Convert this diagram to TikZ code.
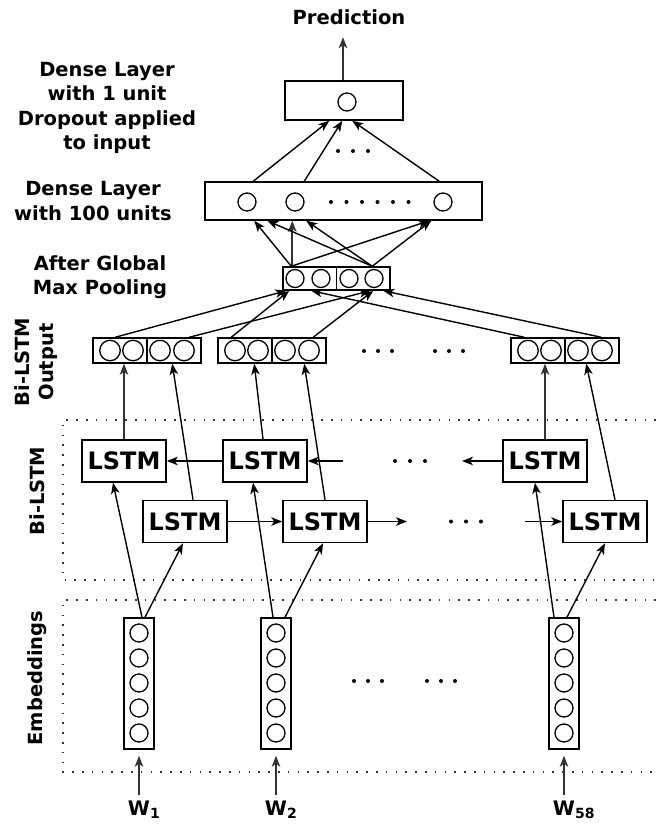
\documentclass[tikz,border=0pt]{standalone}
\usepackage{fontspec}
\setmainfont{DejaVu Sans}
\usetikzlibrary{arrows.meta,calc}
\begin{document}
\begin{tikzpicture}[x=1pt,y=-1pt,
  every node/.style={font=\fontsize{19.5}{24.5}\selectfont\bfseries},
  lbl/.style={align=center,inner sep=0},
  box/.style={draw,line width=1.5pt,inner sep=0},
  lstmbox/.style={box,minimum width=84pt,minimum height=42pt,font=\fontsize{24}{28}\selectfont\bfseries},
  unitc/.style={draw,circle,line width=1.3pt,inner sep=0,minimum size=18pt},
  arr/.style={line width=1.4pt,-{Stealth[length=11pt,width=8.5pt,inset=3pt]}},
  varr/.style={arr,draw=black!80,fill=black!80,line width=1.9pt},
  region/.style={line width=1.5pt,black!80,dash pattern=on 1.6pt off 8.2pt},
  dotmark/.style={fill=black}
]
\useasboundingbox (0,0) rectangle (656,828);

% dotted region frames
\draw[region] (656,420) -- (63,420) -- (63,580) -- (656,580);
\draw[region] (656,600) -- (63,600) -- (63,772) -- (656,772);

% labels
\node[lbl] (pred) at (349,17) {Prediction};
\node[lbl] (l1) at (107,108) {Dense Layer\\with 1 unit\\Dropout applied\\to input};
\node[lbl] (l2) at (93,201) {Dense Layer\\with 100 units};
\node[lbl] (l3) at (100,277) {After Global\\Max Pooling};
\node[lbl,rotate=90] (l4) at (36,362) {Bi-LSTM\\Output};
\node[lbl,rotate=90] (l5) at (37,491) {Bi-LSTM};
\node[lbl,rotate=90] (l6) at (37,678) {Embeddings};

% top dense layer (1 unit)
\node[box,minimum width=118pt,minimum height=39pt] (top) at (344,100.5) {};
\node[unitc] (tc) at (347,102) {};
\foreach \x in {338,353,368} \fill[dotmark] (\x,151) circle (2);

% dense layer 100 units
\node[box,minimum width=277pt,minimum height=38pt] (dense) at (343.5,201) {};
\foreach \k/\x in {1/247,2/295,3/443} \node[unitc] (dc\k) at (\x,202) {};
\foreach \x in {331,346.5,362,377.5,393,408.5} \fill[dotmark] (\x,202) circle (2);

% pooling
\node[box,minimum width=107pt,minimum height=23pt] (pool) at (336.5,278.5) {};
\draw[line width=1.5pt] (pool.north) -- (pool.south);
\foreach \k/\x in {1/295,2/321,3/349,4/374} \node[unitc] (pc\k) at (\x,278.5) {};

% Bi-LSTM outputs
\foreach \n/\x in {1/147,2/272,3/565} {
  \node[box,minimum width=108pt,minimum height=25pt] (o\n) at (\x,350.5) {};
  \draw[line width=1.5pt] (o\n.north) -- (o\n.south);
  \foreach \k/\d in {1/-37,2/-14,3/13,4/37}
    \node[unitc,minimum size=20.5pt] (o\n c\k) at (\x+\d,350.5) {};
}
\foreach \x in {364,378,392,435,449,463} \fill[dotmark] (\x,351) circle (2);

% LSTM cells
\foreach \n/\x in {1/124,2/265,3/545} \node[lstmbox] (lt\n) at (\x,461) {LSTM};
\foreach \n/\x in {1/185,2/325,3/605} \node[lstmbox] (lb\n) at (\x,521.5) {LSTM};
\foreach \x in {395,410,425} \fill[dotmark] (\x,461) circle (2);
\foreach \x in {451,466,481} \fill[dotmark] (\x,521.5) circle (2);

% embeddings
\foreach \n/\x in {1/139,2/276,3/564} {
  \node[box,minimum width=30pt,minimum height=131pt] (e\n) at (\x,683.5) {};
  \foreach \k/\y in {1/633,2/658,3/683,4/708,5/733}
    \node[unitc] (e\n c\k) at (\x,\y) {};
}
\foreach \x in {354,368,382,427,441,455} \fill[dotmark] (\x,681) circle (2);

% words
\node[lbl,font=\fontsize{20}{24}\selectfont\bfseries] (w1) at (139,810) {W\rlap{\textsubscript{1}}};
\node[lbl,font=\fontsize{20}{24}\selectfont\bfseries] (w2) at (276,810) {W\rlap{\textsubscript{2}}};
\node[lbl,font=\fontsize{20}{24}\selectfont\bfseries] (w3) at (564,810) {W\rlap{\textsubscript{58}}};

% word -> embedding
\foreach \n in {1,2,3}
  \draw[varr,shorten <=6pt,shorten >=6pt] (w\n.north) -- (e\n.south);

% embedding -> LSTM
\draw[arr] ($(e1.north)+(3,0)$) -- ($(lt1.south)+(-11,0)$);
\draw[arr] ($(e1.north)+(6,0)$) -- ($(lb1.south)+(-2,0)$);
\draw[arr] ($(e2.north)+(-3,0)$) -- ($(lt2.south)+(-12,0)$);
\draw[arr] ($(e2.north)+(9,0)$) -- ($(lb2.south)+(-2,0)$);
\draw[arr] ($(e3.north)+(-10,0)$) -- ($(lt3.south)+(-10,0)$);
\draw[arr] ($(e3.north)+(3,0)$) -- (lb3.south);

% recurrent connections
\coordinate (h1) at (343,461);
\coordinate (h2) at (462,461);
\coordinate (h3) at (407,521.5);
\coordinate (h4) at (525,521.5);
\draw[arr] (lt2.west) -- (lt1.east);
\draw[arr] (h1) -- (lt2.east);
\draw[arr] (lt3.west) -- (h2);
\draw[arr] (lb1.east) -- (lb2.west);
\draw[arr] (lb2.east) -- (h3);
\draw[arr] (h4) -- (lb3.west);

% LSTM -> outputs
\draw[varr] (lt1.north) -- (lt1.north |- o1.south);
\draw[arr] ($(lb1.north)+(8,0)$) -- ($(o1.south west)+(80,0)$);
\draw[arr] ($(lt2.north)+(-2,0)$) -- ($(o2.south west)+(37,0)$);
\draw[arr] (lb2.north) -- ($(o2.south west)+(87,0)$);
\draw[varr] (lt3.north) -- (lt3.north |- o3.south);
\draw[arr] ($(lb3.north)+(10,0)$) -- ($(o3.south west)+(76,0)$);

% outputs -> pooling
\draw[arr] ($(o1.north west)+(23,0)$) -- ($(pool.south west)+(4,0)$);
\draw[arr] ($(o1.north west)+(97,0)$) -- ($(pool.south west)+(88,0)$);
\draw[arr] ($(o2.north west)+(14,0)$) -- ($(pool.south west)+(7,0)$);
\draw[arr] ($(o2.north west)+(96,0)$) -- ($(pool.south west)+(91,0)$);
\draw[arr] ($(o3.north west)+(14,0)$) -- ($(pool.south west)+(29,0)$);
\draw[arr] ($(o3.north west)+(91,0)$) -- ($(pool.south west)+(101,0)$);

% pooling -> dense
\draw[arr] ($(pool.north west)+(9,0)$) -- ($(dense.south west)+(50,0)$);
\draw[varr] ($(pool.north west)+(10,0)$) -- ($(dense.south west)+(88,0)$);
\draw[arr] ($(pool.north west)+(9,0)$) -- ($(dense.south west)+(225,0)$);
\draw[arr] ($(pool.north west)+(90,0)$) -- ($(dense.south west)+(63,0)$);
\draw[arr] ($(pool.north west)+(90,0)$) -- ($(dense.south west)+(102,0)$);
\draw[arr] ($(pool.north west)+(90,0)$) -- ($(dense.south west)+(227,0)$);

% dense -> top
\draw[arr] ($(dense.north west)+(49,0)$) -- ($(top.south west)+(45,0)$);
\draw[arr] ($(dense.north west)+(100,0)$) -- ($(top.south west)+(58,0)$);
\draw[arr] ($(dense.north west)+(235,0)$) -- ($(top.south west)+(68,0)$);

% top -> prediction
\draw[varr] ($(top.north)+(-1,0)$) -- ++(0,-43);
\end{tikzpicture}
\end{document}
